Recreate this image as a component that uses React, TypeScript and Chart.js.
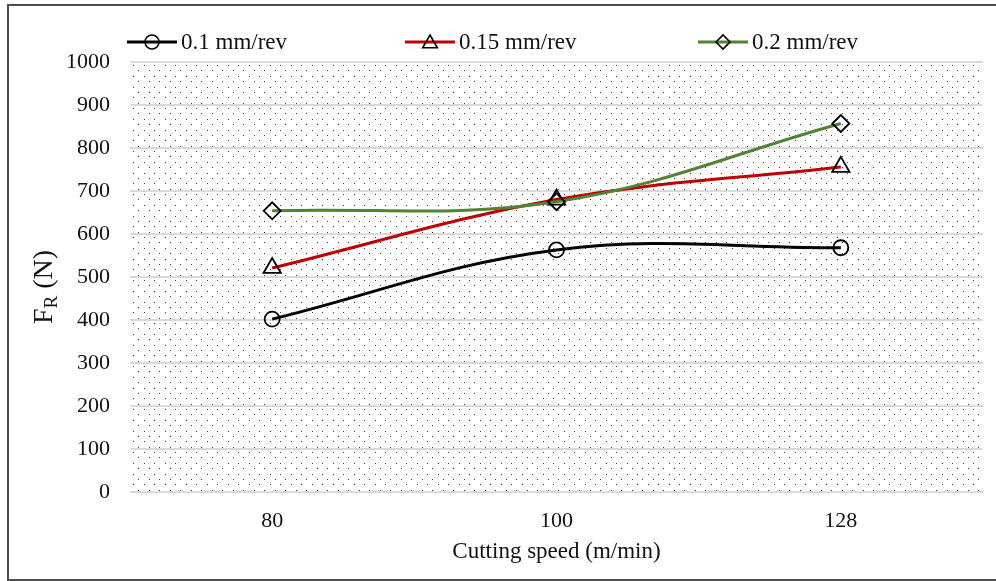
import React, { useEffect, useRef } from 'react';
import { Chart, registerables } from 'chart.js';

Chart.register(...registerables);

// ---- data ----
const categories = ['80', '100', '128'];
const seriesNames = ['0.1 mm/rev', '0.15 mm/rev', '0.2 mm/rev'];
const feed01 = [402, 563, 568];
const feed015 = [521, 680, 756];
const feed02 = [654, 675, 857];
const yTickValues = [0, 100, 200, 300, 400, 500, 600, 700, 800, 900, 1000];
const xTitle = 'Cutting speed (m/min)';
const yTitleMain = 'F';
const yTitleSub = 'R';
const yTitleUnit = ' (N)';

const SERIF = "'Liberation Serif', 'Times New Roman', serif";
const colors = ['#000000', '#c00000', '#548235'];
const markerStyles = ['circle', 'triangle', 'rectRot'];
const markerRadius = [7.5, 10, 8.5];

function drawMarker(ctx: CanvasRenderingContext2D, style: string, x: number, y: number, r: number) {
  ctx.beginPath();
  if (style === 'circle') {
    ctx.arc(x, y, r, 0, Math.PI * 2);
  } else if (style === 'triangle') {
    ctx.moveTo(x, y - r);
    ctx.lineTo(x + r * Math.sin((2 * Math.PI) / 3), y + r / 2);
    ctx.lineTo(x - r * Math.sin((2 * Math.PI) / 3), y + r / 2);
    ctx.closePath();
  } else {
    ctx.moveTo(x - r, y);
    ctx.lineTo(x, y - r);
    ctx.lineTo(x + r, y);
    ctx.lineTo(x, y + r);
    ctx.closePath();
  }
  ctx.stroke();
}

const dotPlugin = {
  id: 'dotPattern',
  beforeDraw(chart: any) {
    const { ctx, chartArea: a } = chart;
    ctx.save();
    ctx.fillStyle = 'rgba(0,0,0,0.75)';
    const rows = 80;
    const dy = (a.bottom - a.top) / rows;
    const dx = 10.5;
    for (let r = 0; r < rows; r++) {
      const y = a.top + 3 + r * dy;
      const off = r % 2 ? dx / 2 : 0;
      for (let x = a.left + 3 + off; x < a.right - 1; x += dx) {
        ctx.fillRect(Math.round(x), Math.round(y), 1, 1);
      }
    }
    ctx.restore();
  },
};

const decorPlugin = {
  id: 'decor',
  afterDraw(chart: any) {
    const { ctx, chartArea: a } = chart;
    ctx.save();
    // legend
    const ly = a.top - 20;
    const starts = [a.left - 3, a.left + 275, a.left + 568];
    seriesNames.forEach((name, i) => {
      const sx = starts[i];
      ctx.strokeStyle = colors[i];
      ctx.lineWidth = 3;
      ctx.beginPath();
      ctx.moveTo(sx, ly);
      ctx.lineTo(sx + 50, ly);
      ctx.stroke();
      ctx.strokeStyle = '#000';
      ctx.lineWidth = 1.6;
      drawMarker(ctx, markerStyles[i], sx + 25, ly + (i === 1 ? 1.5 : 0), i === 1 ? 8.5 : 7);
      ctx.fillStyle = '#111';
      ctx.font = `23px ${SERIF}`;
      ctx.textBaseline = 'middle';
      ctx.textAlign = 'left';
      ctx.fillText(name, sx + 54, ly + 1);
    });
    // y title with subscript
    ctx.translate(52, (a.top + a.bottom) / 2 + 10);
    ctx.rotate(-Math.PI / 2);
    ctx.textBaseline = 'alphabetic';
    ctx.fillStyle = '#111';
    ctx.font = `28px ${SERIF}`;
    const wF = ctx.measureText(yTitleMain).width;
    const wU = ctx.measureText(yTitleUnit).width;
    ctx.font = `19px ${SERIF}`;
    const wR = ctx.measureText(yTitleSub).width;
    let x = -(wF + wR + wU) / 2;
    ctx.font = `28px ${SERIF}`;
    ctx.fillText(yTitleMain, x, 0);
    x += wF;
    ctx.font = `19px ${SERIF}`;
    ctx.fillText(yTitleSub, x, 5);
    x += wR;
    ctx.font = `28px ${SERIF}`;
    ctx.fillText(yTitleUnit, x, 0);
    ctx.restore();
  },
};

export default function App() {
  const canvasRef = useRef<HTMLCanvasElement | null>(null);

  useEffect(() => {
    const canvas = canvasRef.current;
    if (!canvas) return;
    const seriesData = [feed01, feed015, feed02];
    const chart = new Chart(canvas, {
      type: 'line',
      data: {
        labels: categories,
        datasets: seriesData.map((d, i) => ({
          label: seriesNames[i],
          data: d,
          borderColor: colors[i],
          borderWidth: 3,
          tension: 0.38,
          fill: false,
          pointStyle: markerStyles[i] as any,
          pointRadius: markerRadius[i],
          pointBorderColor: '#000',
          pointBackgroundColor: 'rgba(0,0,0,0)',
          pointBorderWidth: 1.8,
          order: 2 - i,
        })),
      },
      options: {
        responsive: false,
        devicePixelRatio: 1,
        animation: false,
        events: [],
        layout: { padding: { left: 8, right: 13, top: 62, bottom: 9 } },
        plugins: {
          legend: { display: false },
          title: { display: false },
          tooltip: { enabled: false },
        },
        scales: {
          x: {
            type: 'category',
            offset: true,
            grid: { display: false, drawTicks: false },
            border: { display: false },
            ticks: {
              color: '#111',
              font: { family: SERIF, size: 22 },
              padding: 16,
              maxRotation: 0,
            },
            title: {
              display: true,
              text: xTitle,
              color: '#111',
              font: { family: SERIF, size: 23 },
              padding: { top: 0, bottom: 6 },
            },
            afterFit: (axis: any) => {
              axis.height = 80;
            },
          },
          y: {
            min: 0,
            max: 1000,
            grid: { color: '#d9d9d9', lineWidth: 2, drawTicks: false },
            border: { display: false },
            afterBuildTicks: (axis: any) => {
              axis.ticks = yTickValues.map((v) => ({ value: v }));
            },
            ticks: {
              color: '#111',
              font: { family: SERIF, size: 22 },
              padding: 20,
              callback: (v: any) => String(v),
            },
            afterFit: (axis: any) => {
              axis.width = 122;
            },
          },
        },
      },
      plugins: [dotPlugin, decorPlugin],
    });
    return () => chart.destroy();
  }, []);

  return (
    <div style={{ position: 'fixed', left: 0, top: 0, width: 996, height: 581, background: '#fff', overflow: 'hidden' }}>
      <div
        style={{
          position: 'absolute',
          left: 7,
          top: 4,
          width: 1000,
          height: 577,
          boxSizing: 'border-box',
          borderTop: '2px solid #4d4d4d',
          borderLeft: '2px solid #4d4d4d',
          borderBottom: '2px solid #4d4d4d',
        }}
      />
      <canvas
        ref={canvasRef}
        width={996}
        height={581}
        style={{ position: 'absolute', left: 0, top: 0, width: 996, height: 581 }}
      />
    </div>
  );
}
